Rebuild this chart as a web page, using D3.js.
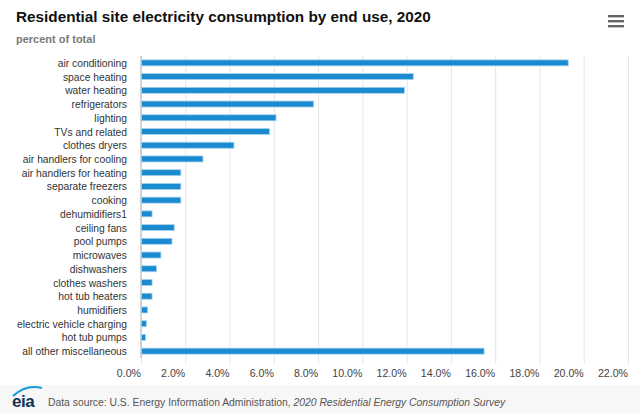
<!DOCTYPE html>
<html>
<head>
<meta charset="utf-8">
<script src="https://cdn.jsdelivr.net/npm/d3@7"></script>
<style>
  body { margin: 0; background: #fff; font-family: "Liberation Sans", Arial, sans-serif; }
  .grid line { stroke: #e6e6e6; }
  .grid path { display: none; }
</style>
</head>
<body>
<script>
var categories = ["air conditioning", "space heating", "water heating", "refrigerators", "lighting",
    "TVs and related", "clothes dryers", "air handlers for cooling", "air handlers for heating",
    "separate freezers", "cooking", "dehumidifiers1", "ceiling fans", "pool pumps", "microwaves",
    "dishwashers", "clothes washers", "hot tub heaters", "humidifiers", "electric vehicle charging",
    "hot tub pumps", "all other miscellaneous"];
var values = [19.3, 12.3, 11.9, 7.8, 6.1, 5.8, 4.2, 2.8, 1.8, 1.8, 1.8, 0.5, 1.5, 1.4, 0.9,
    0.7, 0.5, 0.5, 0.3, 0.25, 0.2, 15.5];
var xTicks = [0, 2, 4, 6, 8, 10, 12, 14, 16, 18, 20, 22];

var w = 640, h = 413;
var plotLeft = 141, plotRight = 628, plotTop = 56, plotBottom = 358;

var svg = d3.select("body").append("svg").attr("width", w).attr("height", h);

var x = d3.scaleLinear().domain([0, 22]).range([plotLeft, plotRight]);
var y = d3.scaleBand().domain(categories).range([plotTop, plotBottom]);

// title
svg.append("text").attr("x", 16).attr("y", 22).attr("font-size", 15.3).attr("font-weight", "bold")
    .attr("fill", "#111").text("Residential site electricity consumption by end use, 2020");
svg.append("text").attr("x", 16).attr("y", 43).attr("font-size", 11).attr("font-weight", "bold")
    .attr("fill", "#7a7a7a").text("percent of total");

// menu icon
svg.selectAll(".menu").data([0, 1, 2]).enter().append("rect").attr("class", "menu")
    .attr("x", 608).attr("y", d => 15 + d * 5).attr("width", 16).attr("height", 2.4)
    .attr("fill", "#666");

// gridlines
svg.append("g").attr("class", "grid").attr("transform", "translate(0," + plotTop + ")")
    .call(d3.axisBottom(x).tickValues(xTicks).tickSize(plotBottom - plotTop + 6).tickFormat(""));

// bars
svg.selectAll(".bar").data(values).enter().append("rect").attr("class", "bar")
    .attr("x", x(0))
    .attr("y", (d, i) => y(categories[i]) + y.bandwidth() / 2 - 3)
    .attr("width", d => x(d) - x(0))
    .attr("height", 6)
    .attr("fill", "#1a8bd0")
    .attr("stroke", "#a9d3ee")
    .attr("stroke-width", 0.8);

// y axis line
svg.append("line").attr("x1", plotLeft).attr("x2", plotLeft).attr("y1", plotTop).attr("y2", plotBottom)
    .attr("stroke", "#c8c8c8").attr("stroke-width", 1.5);

// category labels
svg.selectAll(".cat").data(categories).enter().append("text").attr("class", "cat")
    .attr("x", 127).attr("y", d => y(d) + y.bandwidth() / 2 + 4)
    .attr("text-anchor", "end").attr("font-size", 10.3).attr("fill", "#333")
    .text(d => d);

// x tick labels (right aligned on the gridline)
svg.selectAll(".xl").data(xTicks).enter().append("text").attr("class", "xl")
    .attr("x", d => x(d)).attr("y", 377)
    .attr("text-anchor", "end").attr("font-size", 10.6).attr("fill", "#444")
    .text(d => d.toFixed(1) + "%");

// footer
svg.append("rect").attr("x", 0).attr("y", 385).attr("width", w).attr("height", h - 385).attr("fill", "#f7f7f7");
svg.append("path").attr("d", "M13,396 Q26,384 42,388").attr("fill", "none")
    .attr("stroke", "#1a9ad6").attr("stroke-width", 2.2);
svg.append("text").attr("x", 12).attr("y", 407).attr("font-size", 17).attr("font-weight", "bold")
    .attr("fill", "#0d3556").attr("letter-spacing", -0.5).text("eia");
var foot = svg.append("text").attr("x", 48).attr("y", 406).attr("font-size", 10.35).attr("fill", "#555");
foot.append("tspan").text("Data source: U.S. Energy Information Administration, ");
foot.append("tspan").attr("font-style", "italic").text("2020 Residential Energy Consumption Survey");
</script>
</body>
</html>
